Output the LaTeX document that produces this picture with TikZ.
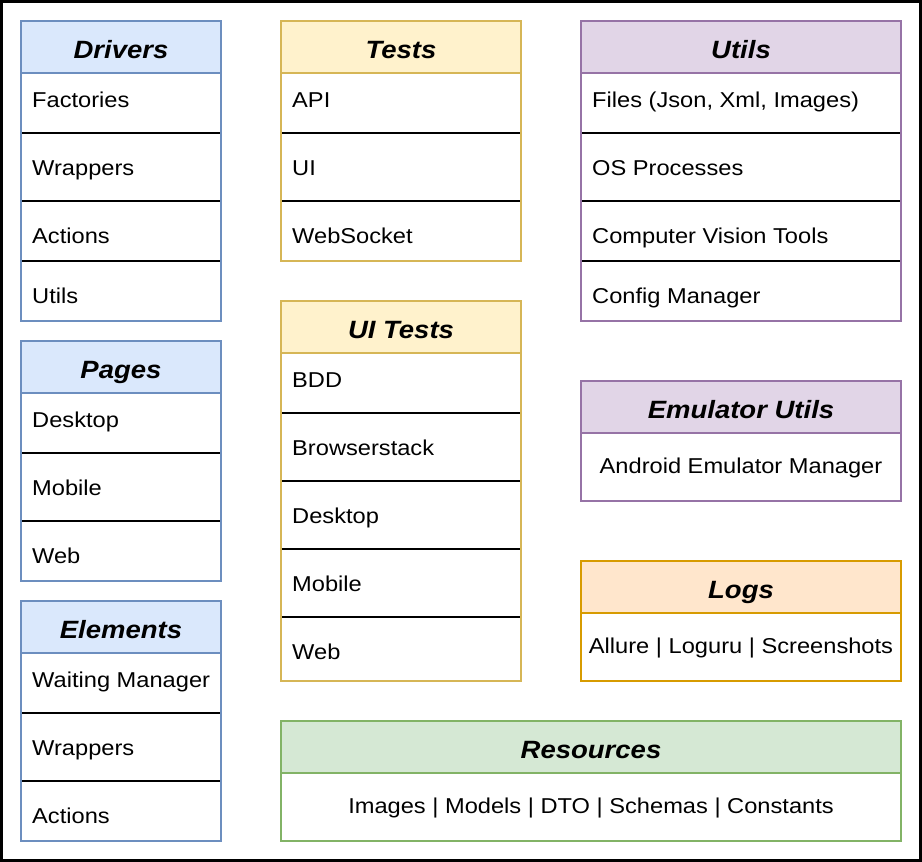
\documentclass[tikz,border=0pt]{standalone}
\usepackage{fontspec}
\setmainfont{Liberation Sans}[FakeStretch=1.1]

\definecolor{bluefill}{HTML}{DAE8FC}
\definecolor{blueline}{HTML}{6C8EBF}
\definecolor{yellowfill}{HTML}{FFF2CC}
\definecolor{yellowline}{HTML}{D6B656}
\definecolor{purplefill}{HTML}{E1D5E7}
\definecolor{purpleline}{HTML}{9673A6}
\definecolor{orangefill}{HTML}{FFE6CC}
\definecolor{orangeline}{HTML}{D79B00}
\definecolor{greenfill}{HTML}{D5E8D4}
\definecolor{greenline}{HTML}{82B366}

\newcommand\rowfont{\fontsize{21.5}{24}\selectfont}
\newcommand\headfont{\fontsize{25}{28}\selectfont\bfseries\itshape}

\tikzset{
  rowtext/.style={anchor=base west, inner sep=0pt, font=\rowfont},
  ctext/.style={anchor=base, inner sep=0pt, font=\rowfont},
  titletext/.style={anchor=base, inner sep=0pt, font=\headfont},
  sepline/.style={black, line width=2pt},
  frame/.style={line width=2pt},
}

% #1 id, #2 left, #3 right, #4 top, #5 header bottom, #6 bottom, #7 colour scheme, #8 title
\newcommand\panelbox[8]{%
  \fill[#7fill] (#2,#4) rectangle (#3,#5);
  \draw[frame,#7line] (#2,#4) rectangle (#3,#6) (#2,#5) -- (#3,#5);
  \node[titletext] (#1) at ({(#2+#3)/2},#4+37) {#8};
}
% separators between list rows
\newcommand\rowlines[3]{%
  \foreach \ly in {#3} \draw[sepline] (#1,\ly) -- (#2,\ly);
}

\begin{document}
\begin{tikzpicture}[x=1pt,y=-1pt]
\useasboundingbox (0,0) rectangle (922,862);
\fill[white] (0,0) rectangle (922,862);
\draw[line width=3pt] (1.5,1.5) rectangle (920.5,860.5);

% Drivers
\rowlines{21}{221}{133,201,261}
\panelbox{drivers}{21}{221}{21}{73}{321}{blue}{Drivers}
\node[rowtext] (drivers-1) at (32,107.5) {Factories};
\node[rowtext] (drivers-2) at (32,175.5) {Wrappers};
\node[rowtext] (drivers-3) at (32,243.5) {Actions};
\node[rowtext] (drivers-4) at (32,303.5) {Utils};

% Pages
\rowlines{21}{221}{453,521}
\panelbox{pages}{21}{221}{341}{393}{581}{blue}{Pages}
\node[rowtext] (pages-1) at (32,427.5) {Desktop};
\node[rowtext] (pages-2) at (32,495.5) {Mobile};
\node[rowtext] (pages-3) at (32,563.5) {Web};

% Elements
\rowlines{21}{221}{713,781}
\panelbox{elements}{21}{221}{601}{653}{841}{blue}{Elements}
\node[rowtext] (elements-1) at (32,687.5) {Waiting Manager};
\node[rowtext] (elements-2) at (32,755.5) {Wrappers};
\node[rowtext] (elements-3) at (32,823.5) {Actions};

% Tests
\rowlines{281}{521}{133,201}
\panelbox{tests}{281}{521}{21}{73}{261}{yellow}{Tests}
\node[rowtext] (tests-1) at (292,107.5) {API};
\node[rowtext] (tests-2) at (292,175.5) {UI};
\node[rowtext] (tests-3) at (292,243.5) {WebSocket};

% UI Tests
\rowlines{281}{521}{413,481,549,617}
\panelbox{uitests}{281}{521}{301}{353}{681}{yellow}{UI Tests}
\node[rowtext] (uitests-1) at (292,387.5) {BDD};
\node[rowtext] (uitests-2) at (292,455.5) {Browserstack};
\node[rowtext] (uitests-3) at (292,523.5) {Desktop};
\node[rowtext] (uitests-4) at (292,591.5) {Mobile};
\node[rowtext] (uitests-5) at (292,659.5) {Web};

% Utils
\rowlines{581}{901}{133,201,261}
\panelbox{utils}{581}{901}{21}{73}{321}{purple}{Utils}
\node[rowtext] (utils-1) at (592,107.5) {Files (Json, Xml, Images)};
\node[rowtext] (utils-2) at (592,175.5) {OS Processes};
\node[rowtext] (utils-3) at (592,243.5) {Computer Vision Tools};
\node[rowtext] (utils-4) at (592,303.5) {Config Manager};

% Emulator Utils
\panelbox{emulator}{581}{901}{381}{433}{501}{purple}{Emulator Utils}
\node[ctext] (emulator-1) at (741,473.5) {Android Emulator Manager};

% Logs
\panelbox{logs}{581}{901}{561}{613}{681}{orange}{Logs}
\node[ctext] (logs-1) at (741,653.5) {Allure | Loguru | Screenshots};

% Resources
\panelbox{resources}{281}{901}{721}{773}{841}{green}{Resources}
\node[ctext] (resources-1) at (591,813.5) {Images | Models | DTO | Schemas | Constants};
\end{tikzpicture}
\end{document}
